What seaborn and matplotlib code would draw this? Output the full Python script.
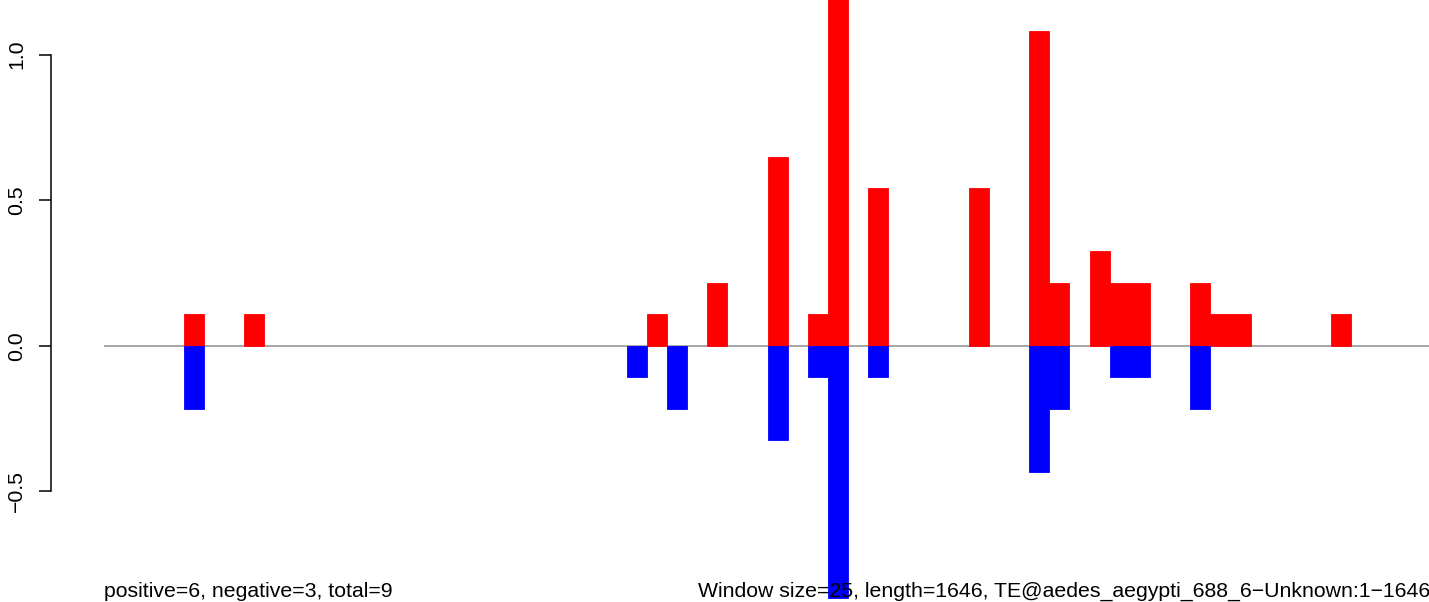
import matplotlib
matplotlib.use("Agg")
import matplotlib.pyplot as plt
import seaborn as sns
import pandas as pd
import numpy as np

# ---- data ----
window_size = 25
seq_length = 1646
# window indices and normalised signal, positive (red) strand
pos_windows = [4, 7, 27, 30, 33, 35, 36, 38, 43, 46, 47, 49, 50, 51, 54, 55, 56, 61]
pos_values = [0.108, 0.108, 0.108, 0.216, 0.649, 0.108, 1.30, 0.541, 0.541, 1.082,
              0.216, 0.325, 0.216, 0.216, 0.216, 0.108, 0.108, 0.108]
# negative (blue) strand
neg_windows = [4, 26, 28, 33, 35, 36, 38, 46, 47, 50, 51, 54]
neg_values = [-0.216, -0.108, -0.216, -0.325, -0.108, -0.866, -0.108, -0.433,
              -0.216, -0.108, -0.108, -0.216]
ytick_values = [-0.5, 0.0, 0.5, 1.0]
ytick_labels = ["\u22120.5", "0.0", "0.5", "1.0"]
left_note = "positive=6, negative=3, total=9"
right_note = ("Window size=25, length=1646, "
              "TE@aedes_aegypti_688_6\u2212Unknown:1\u22121646")

pos_df = pd.DataFrame({"pos": (np.array(pos_windows) + 0.5) * window_size,
                       "val": pos_values})
neg_df = pd.DataFrame({"pos": (np.array(neg_windows) + 0.5) * window_size,
                       "val": neg_values})

sns.set_theme(style="white")
plt.rcParams["font.family"] = ["Liberation Sans", "DejaVu Sans"]

W, H = 1429, 602
fig = plt.figure(figsize=(W / 100, H / 100), dpi=100)
fig.patch.set_facecolor("white")
ax_left_px = 50.5
ax = fig.add_axes([ax_left_px / W, 0, (W - ax_left_px) / W, 1])
ax.set_facecolor("white")

# zero reference line
ax.hlines(0, 0, seq_length + 100, color="#a0a0a0", linewidth=1.3, zorder=1)

sns.barplot(data=pos_df, x="pos", y="val", native_scale=True, width=1.0,
            color="#ff0000", saturation=1, errorbar=None, ax=ax,
            edgecolor="#ff0000", linewidth=0.6, zorder=2)
sns.barplot(data=neg_df, x="pos", y="val", native_scale=True, width=1.0,
            color="#0000ff", saturation=1, errorbar=None, ax=ax,
            edgecolor="#0000ff", linewidth=0.6, zorder=2)

px_per_bp = 20.123 / window_size
x0_px = 103.5
ax.set_xlim((ax_left_px - x0_px) / px_per_bp, (W - x0_px) / px_per_bp)
zero_px = 345.8
px_per_unit = 291.3
ax.set_ylim(-(H - zero_px) / px_per_unit, zero_px / px_per_unit)

for s in ["top", "right", "bottom"]:
    ax.spines[s].set_visible(False)
ax.spines["left"].set_bounds(-0.5, 1.0)
ax.spines["left"].set_linewidth(1.1)
ax.spines["left"].set_color("black")
ax.set_xticks([])
ax.set_xlabel("")
ax.set_ylabel("")
ax.set_yticks(ytick_values)
ax.set_yticklabels(ytick_labels, rotation=90, va="center", fontsize=15.3)
ax.tick_params(axis="y", direction="out", length=9, width=1.1, color="black",
               pad=8.5, left=True, labelcolor="black")
ax.grid(False)

fig.text(104 / W, 1 - 597 / H, left_note, fontsize=15.3, color="black",
         ha="left", va="baseline", zorder=5)
fig.text(698 / W, 1 - 597 / H, right_note, fontsize=15.3, color="black",
         ha="left", va="baseline", zorder=5)

fig.savefig("out.png", dpi=100, facecolor="white")
